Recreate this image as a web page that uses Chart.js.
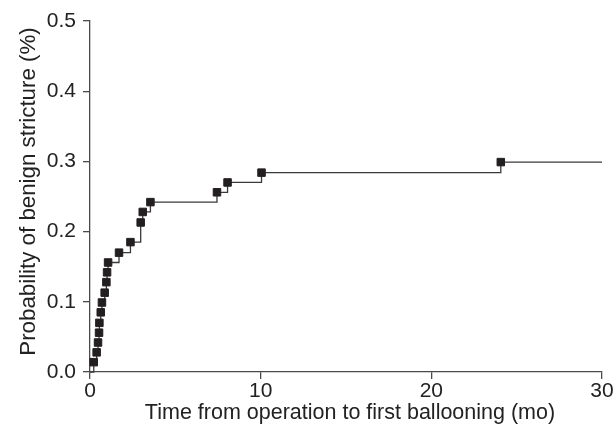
<!DOCTYPE html>
<html>
<head>
<meta charset="utf-8">
<script src="https://cdn.jsdelivr.net/npm/chart.js@4/dist/chart.umd.min.js"></script>
<style>
  html, body { margin: 0; padding: 0; background: #ffffff; }
  #wrap { width: 616px; height: 440px; position: relative; }
</style>
</head>
<body>
<div id="wrap"><canvas id="c" width="616" height="440"></canvas></div>
<script>
// Event times (months) and cumulative probability at each event (starts at origin)
const times = [0, 0.22, 0.39, 0.47, 0.53, 0.55, 0.63, 0.70, 0.86, 0.96, 1.00, 1.06, 1.70, 2.37, 2.97, 3.09, 3.54, 7.44, 8.06, 10.05, 24.07];
const probs = [0, 0.014, 0.028, 0.042, 0.056, 0.070, 0.085, 0.099, 0.113, 0.128, 0.142, 0.156, 0.170, 0.185, 0.213, 0.228, 0.242, 0.256, 0.270, 0.284, 0.299];
// End of follow-up (line continues flat to here)
const followUpEnd = 30;
const xTicks = [0, 10, 20, 30];
const yTicks = [0.0, 0.1, 0.2, 0.3, 0.4, 0.5];
const xTitle = 'Time from operation to first ballooning (mo)';
const yTitle = 'Probability of benign stricture (%)';

const points = times.map((t, i) => ({ x: t, y: probs[i] }));
points.push({ x: followUpEnd, y: probs[probs.length - 1] });
const lastIdx = points.length - 1;

const ink = '#231f20';
const axisColor = '#4a4a4a';
const textColor = '#222';
const FONT = 'Liberation Sans, Arial, Helvetica, sans-serif';

// Draws the two axis titles as canvas text at the reference positions
const axisTitles = {
  id: 'axisTitles',
  afterDraw(chart) {
    const ctx = chart.ctx;
    const area = chart.chartArea;
    ctx.save();
    ctx.fillStyle = textColor;
    ctx.textAlign = 'center';
    ctx.textBaseline = 'alphabetic';
    ctx.font = '21.5px ' + FONT;
    ctx.fillText(xTitle, (area.left + area.right) / 2 + 4, 419);
    ctx.font = '22.3px ' + FONT;
    ctx.translate(35, (area.top + area.bottom) / 2 - 5);
    ctx.rotate(-Math.PI / 2);
    ctx.fillText(yTitle, 0, 0);
    ctx.restore();
  }
};

new Chart(document.getElementById('c'), {
  type: 'line',
  data: {
    datasets: [{
      data: points,
      stepped: true,
      borderColor: '#3a3a3a',
      borderWidth: 1.3,
      fill: false,
      pointStyle: 'rect',
      pointRadius: ctx => (ctx.dataIndex === 0 || ctx.dataIndex === lastIdx) ? 0 : 5.3,
      pointBackgroundColor: ink,
      pointBorderColor: ink,
      pointBorderWidth: 1,
      clip: false
    }]
  },
  plugins: [axisTitles],
  options: {
    responsive: false,
    animation: false,
    events: [],
    layout: { padding: { top: 21, right: 14, left: 0, bottom: 0 } },
    plugins: { legend: { display: false }, tooltip: { enabled: false } },
    scales: {
      x: {
        type: 'linear',
        min: xTicks[0],
        max: xTicks[xTicks.length - 1],
        afterBuildTicks: s => { s.ticks = xTicks.map(v => ({ value: v })); },
        afterFit: s => { s.height = 68; },
        grid: { drawOnChartArea: false, drawTicks: true, tickLength: 7, color: axisColor, lineWidth: 1.3 },
        border: { display: true, color: axisColor, width: 1.3 },
        ticks: { color: textColor, font: { family: FONT, size: 21 }, padding: 0, callback: v => String(v) },
        title: { display: false }
      },
      y: {
        type: 'linear',
        min: yTicks[0],
        max: yTicks[yTicks.length - 1],
        afterBuildTicks: s => { s.ticks = yTicks.map(v => ({ value: v })); },
        afterFit: s => { s.width = 90; },
        grid: { drawOnChartArea: false, drawTicks: true, tickLength: 7, color: axisColor, lineWidth: 1.3 },
        border: { display: true, color: axisColor, width: 1.3 },
        ticks: { color: textColor, font: { family: FONT, size: 21 }, padding: 7, callback: v => Number(v).toFixed(1) },
        title: { display: false }
      }
    }
  }
});
</script>
</body>
</html>
